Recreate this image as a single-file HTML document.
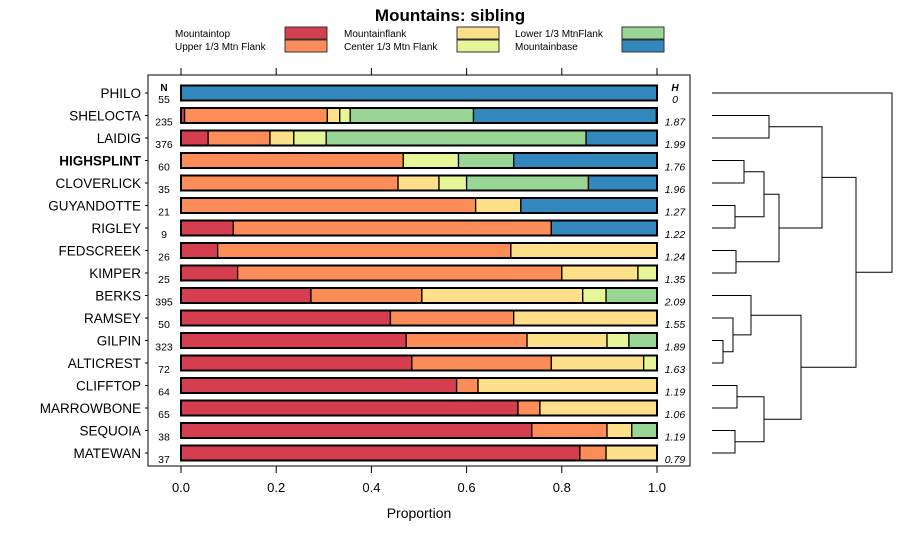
<!DOCTYPE html>
<html><head><meta charset="utf-8"><style>
body{margin:0;background:#fff}
svg{display:block;font-family:"Liberation Sans",sans-serif}
</style></head><body>
<svg id="chart" width="900" height="540" viewBox="0 0 900 540">
<text x="450" y="21" text-anchor="middle" font-size="17" font-weight="bold">Mountains: sibling</text>
<g id="legend"></g>
<rect x="148" y="75" width="542" height="391" fill="none" stroke="#000" stroke-width="1"/>
<g id="bars"></g><g id="axis"></g><g id="dendro"></g>
<text x="419" y="518" text-anchor="middle" font-size="14">Proportion</text>
</svg>
<script>
const categories=["PHILO","SHELOCTA","LAIDIG","HIGHSPLINT","CLOVERLICK","GUYANDOTTE","RIGLEY","FEDSCREEK","KIMPER","BERKS","RAMSEY","GILPIN","ALTICREST","CLIFFTOP","MARROWBONE","SEQUOIA","MATEWAN"];
const nValues=[55,235,376,60,35,21,9,26,25,395,50,323,72,64,65,38,37];
const hValues=["0","1.87","1.99","1.76","1.96","1.27","1.22","1.24","1.35","2.09","1.55","1.89","1.63","1.19","1.06","1.19","0.79"];
const seriesNames=["Mountaintop","Upper 1/3 Mtn Flank","Mountainflank","Center 1/3 Mtn Flank","Lower 1/3 MtnFlank","Mountainbase"];
const seriesColors=["#D53E4F","#FC8D59","#FEE08B","#E6F598","#99D594","#3288BD"];
const mountaintop=[0,.0075,.057,0,0,0,.110,.077,.119,.273,.440,.473,.485,.579,.708,.737,.838];
const upperFlank=[0,.300,.130,.467,.456,.619,.668,.616,.681,.233,.259,.254,.293,.045,.046,.158,.055];
const mountainflank=[0,.026,.050,0,.086,.095,0,.307,.160,.338,.301,.168,.194,.376,.246,.052,.107];
const centerFlank=[0,.022,.068,.116,.058,0,0,0,.040,.049,0,.046,.028,0,0,0,0];
const lowerFlank=[0,.259,.546,.116,.256,0,0,0,0,.107,0,.059,0,0,0,.053,0];
const mountainbase=[1,.384,.149,.301,.144,.286,.222,0,0,0,0,0,0,0,0,0,0];
const xTicks=[0,0.2,0.4,0.6,0.8,1.0];
const xTickLabels=["0.0","0.2","0.4","0.6","0.8","1.0"];
const series=[mountaintop,upperFlank,mountainflank,centerFlank,lowerFlank,mountainbase];
const NS="http://www.w3.org/2000/svg";
const X=v=>181+v*476;
const Y=i=>93+i*22.5;
function mk(tag,attrs,parent,text){const e=document.createElementNS(NS,tag);for(const k in attrs)e.setAttribute(k,attrs[k]);if(text!==undefined)e.textContent=text;parent.appendChild(e);return e;}
// legend
const lg=document.getElementById('legend');
const lx=[175,344,515],bx=[285,457,622];
seriesNames.forEach((n,k)=>{const col=Math.floor(k/2),row=k%2;
 const t=mk('text',{x:lx[col],y:37+row*13,'font-size':10},lg,n);
 
 
 const r=mk('rect',{x:bx[col],y:27+row*13,width:42,height:12,fill:seriesColors[k],stroke:'#333','stroke-width':1},lg);
 
 
});
// bars
const bg=document.getElementById('bars');
mk('text',{x:164,y:91,'font-size':10,'font-weight':'bold','text-anchor':'middle'},bg,'N');
mk('text',{x:675,y:91,'font-size':10,'font-weight':'bold','font-style':'italic','text-anchor':'middle'},bg,'H');
categories.forEach((c,i)=>{const y=Y(i);
 const lab=mk('text',{x:141,y:y+5,'font-size':13.5,'text-anchor':'end','font-weight':c==='HIGHSPLINT'?'bold':'normal'},bg,c);
 
 
 mk('line',{x1:145,x2:148,y1:y,y2:y,stroke:'#000'},bg);
 const nt=mk('text',{x:164,y:y+10,'font-size':10.5,'text-anchor':'middle'},bg,String(nValues[i]));
 
 
 const ht=mk('text',{x:675,y:y+10,'font-size':10.5,'font-style':'italic','text-anchor':'middle'},bg,hValues[i]);
 
 
 let cum=0;
 series.forEach((s,k)=>{const v=s[i];if(v<=0)return;
  const r=mk('rect',{x:X(cum),y:y-7.5,width:X(cum+v)-X(cum),height:15,fill:seriesColors[k],stroke:'#000','stroke-width':1.3},bg);
  
  
  cum+=v;});
 mk('rect',{x:X(0),y:y-7.5,width:X(1)-X(0),height:15,fill:'none',stroke:'#000','stroke-width':2},bg);
});
// axis
const ax=document.getElementById('axis');
xTicks.forEach((t,k)=>{const x=X(t);
 mk('line',{x1:x,x2:x,y1:68,y2:75,stroke:'#000'},ax);
 mk('line',{x1:x,x2:x,y1:466,y2:473,stroke:'#000'},ax);
 const tl=mk('text',{x:x,y:492,'font-size':13,'text-anchor':'middle'},ax,xTickLabels[k]);
 
 
});
// dendrogram
const dg=document.getElementById('dendro');


const merges=[[1,2,769],[3,4,744],[5,6,735],['a1','a2',764],[7,8,736],['a3','a4',779],['a0','a5',822],[11,12,723],[10,'a7',733],[9,'a8',751],[13,14,737],[15,16,735],['a10','a11',764],['a9','a12',801],['a6','a13',856],[0,'a14',892]];
const nodes={};
function pos(n){if(typeof n==='number')return {y:Y(n),x:712};return nodes[n];}
merges.forEach((m,k)=>{const a=pos(m[0]),b=pos(m[1]),h=m[2];
 mk('path',{d:`M${a.x},${a.y}H${h}V${b.y}H${b.x}`,fill:'none',stroke:'#000','stroke-width':1},dg);
 nodes['a'+k]={x:h,y:(a.y+b.y)/2};
});
</script>
</body></html>
